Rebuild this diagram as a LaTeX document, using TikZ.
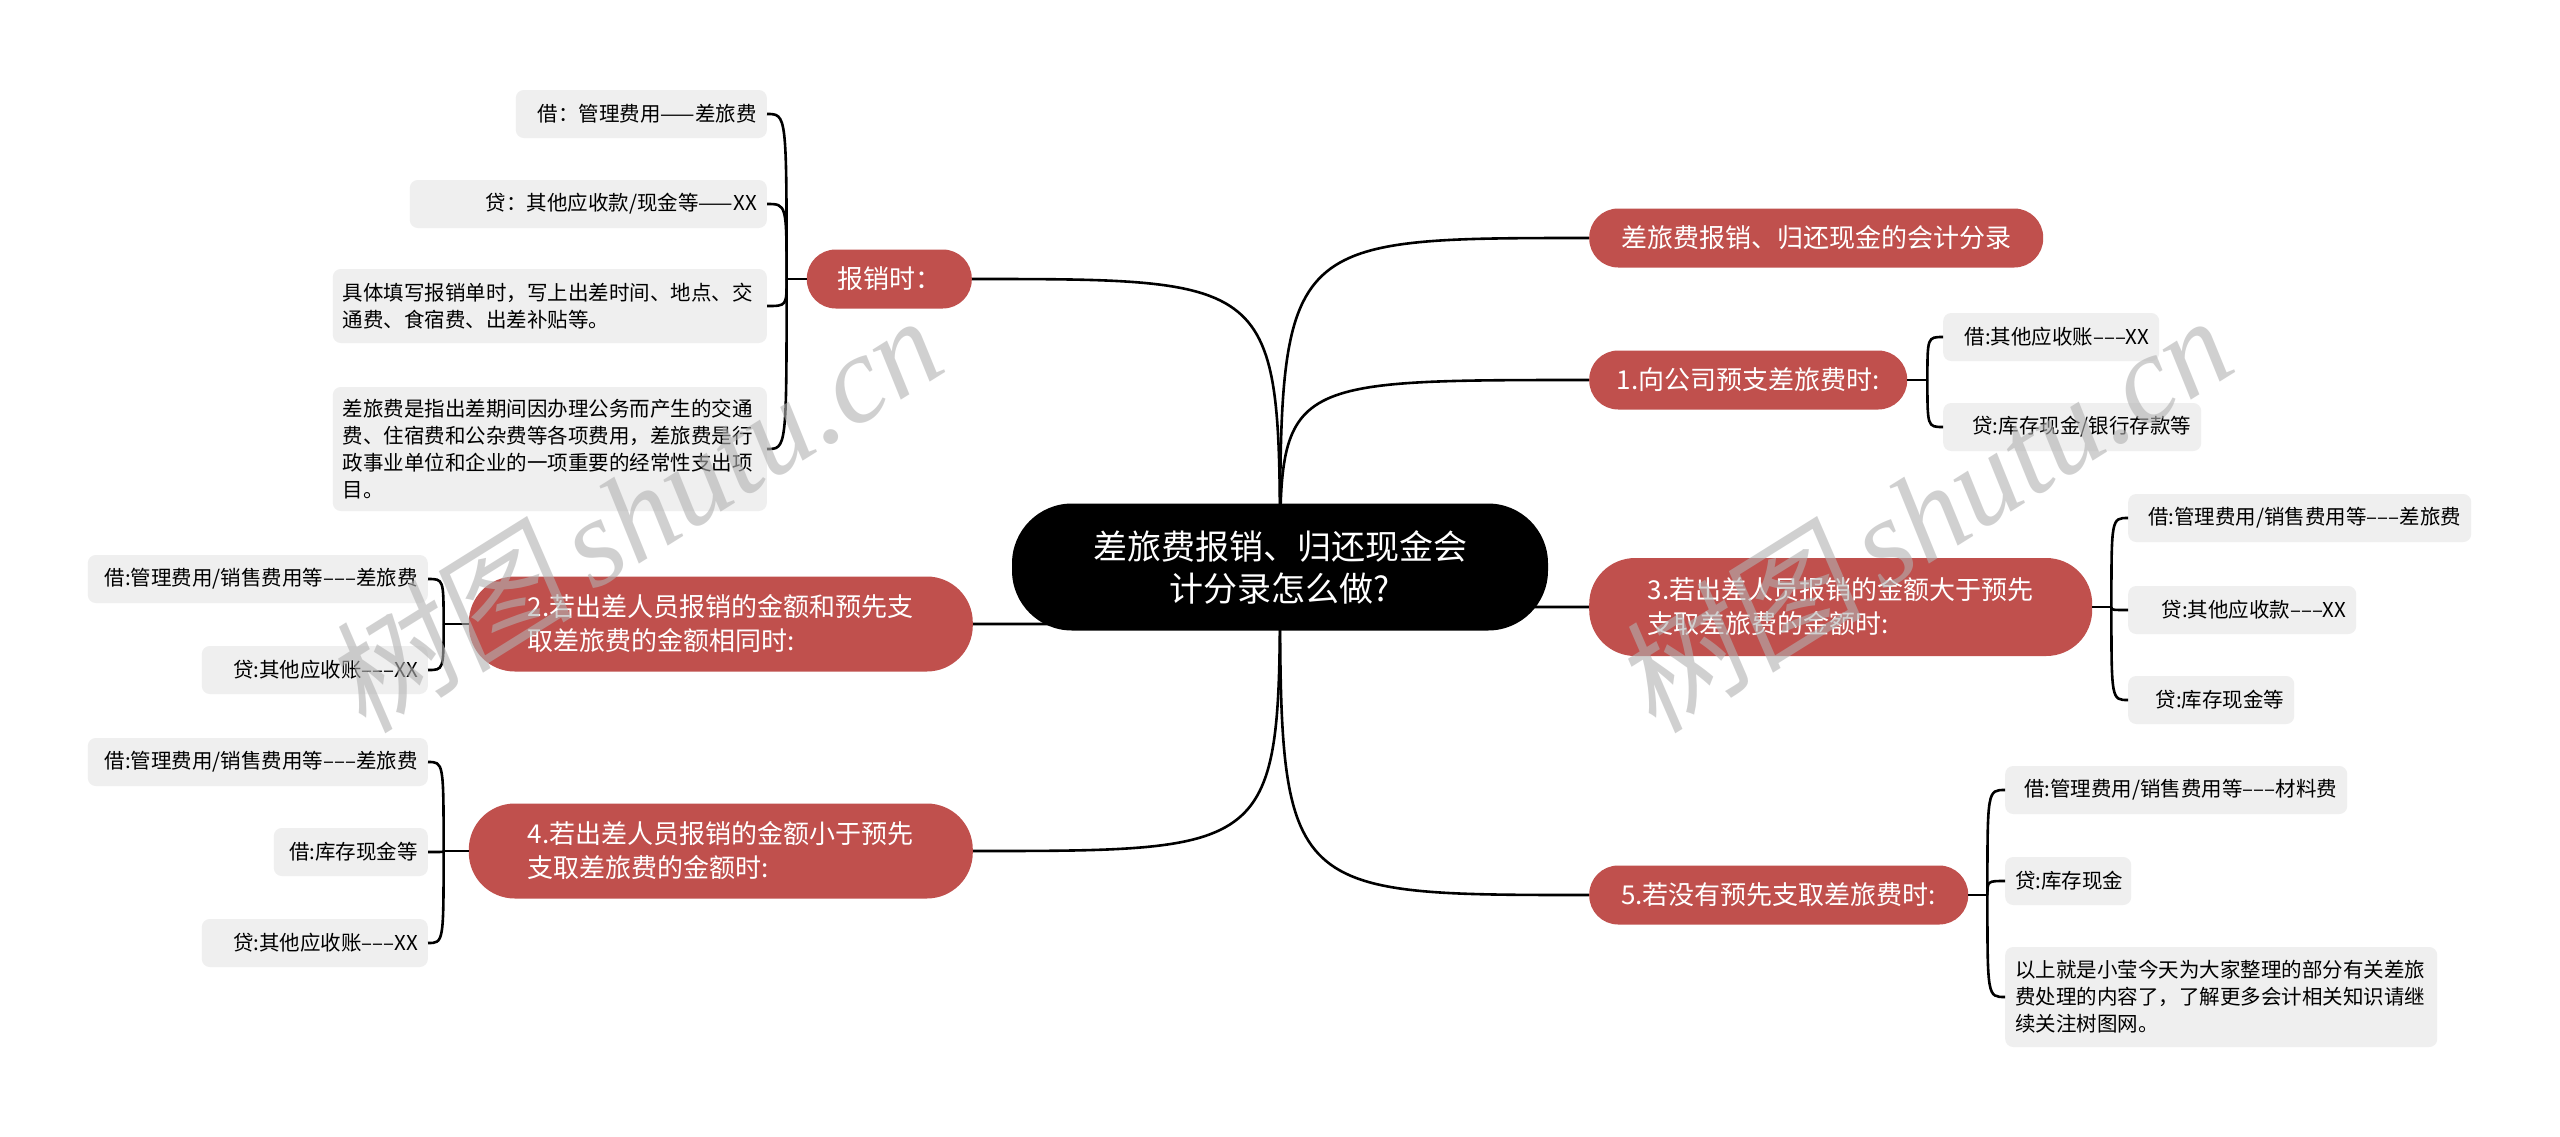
\documentclass[tikz,border=0pt]{standalone}
\usepackage{fontspec}
\setmainfont{Noto Sans CJK SC}
\newfontfamily\wmcjk[FakeSlant=0.15]{Noto Sans CJK SC}
\newfontfamily\wmlat{Liberation Serif}
\usetikzlibrary{backgrounds}
\definecolor{nodered}{HTML}{C0504D}
\definecolor{leafgray}{HTML}{EFEFEF}
\newcommand\tripdash{–\kern0pt–\kern0pt–}
\begin{document}
\begin{tikzpicture}[x=1pt,y=-1pt,
  conn/.style={line width=2.6pt, black},
  rootnode/.style={fill=black, text=white, rounded corners=60pt, minimum width=536pt, minimum height=127pt, font=\fontsize{34}{42}\selectfont, align=center, inner sep=0pt},
  topic/.style={fill=nodered, text=white, rounded corners=29pt, minimum height=59pt, font=\fontsize{26}{34}\selectfont, inner sep=0pt},
  topictwo/.style={topic, rounded corners=46pt, align=left},
  leaf/.style={fill=leafgray, rounded corners=8pt, inner xsep=10pt, inner ysep=0pt, minimum height=48pt, font=\fontsize{20.5}{27}\selectfont},
  wm/.style={text=black!30, text opacity=0.6, font=\fontsize{125}{125}\selectfont, inner sep=0pt}
]
\useasboundingbox (0,0) rectangle (2560,1136);

% root
\node[rootnode] (C) at (1280,567) {差旅费报销、归还现金会\\计分录怎么做?};

% right topics
\node[topic, anchor=west, minimum width=454pt] (R0) at (1589,238) {差旅费报销、归还现金的会计分录};
\node[topic, anchor=west, minimum width=318pt] (R1) at (1589,380) {1.向公司预支差旅费时:};
\node[topictwo, anchor=west, minimum width=503pt, minimum height=98pt] (R3) at (1589,607) {3.若出差人员报销的金额大于预先\\支取差旅费的金额时:};
\node[topic, anchor=west, minimum width=379pt] (R5) at (1589,895) {5.若没有预先支取差旅费时:};

% left topics
\node[topic, anchor=east, minimum width=165pt] (L0) at (972,279) {报销时：};
\node[topictwo, anchor=east, minimum width=504pt, minimum height=95pt] (L2) at (973,624) {2.若出差人员报销的金额和预先支\\取差旅费的金额相同时:};
\node[topictwo, anchor=east, minimum width=504pt, minimum height=95pt] (L4) at (973,851) {4.若出差人员报销的金额小于预先\\支取差旅费的金额时:};

% L0 leaves
\node[leaf, anchor=east, text width=231pt, align=right] (L0a) at (767,114) {借：管理费用——差旅费};
\node[leaf, anchor=east, text width=337pt, align=right] (L0b) at (767,204) {贷：其他应收款/现金等——XX};
\node[leaf, anchor=east, text width=414pt, align=left, minimum height=74pt] (L0c) at (767,306) {具体填写报销单时，写上出差时间、地点、交\\通费、食宿费、出差补贴等。};
\node[leaf, anchor=east, text width=414pt, align=left, minimum height=124pt] (L0d) at (767,449) {差旅费是指出差期间因办理公务而产生的交通\\费、住宿费和公杂费等各项费用，差旅费是行\\政事业单位和企业的一项重要的经常性支出项\\目。};

% L2 leaves
\node[leaf, anchor=east, text width=320pt, align=right] (L2a) at (428,579) {借:管理费用/销售费用等\tripdash 差旅费};
\node[leaf, anchor=east, text width=206pt, align=right] (L2b) at (428,670) {贷:其他应收账\tripdash XX};

% L4 leaves
\node[leaf, anchor=east, text width=320pt, align=right] (L4a) at (428,762) {借:管理费用/销售费用等\tripdash 差旅费};
\node[leaf, anchor=east, text width=134pt, align=right] (L4b) at (428,852) {借:库存现金等};
\node[leaf, anchor=east, text width=206pt, align=right] (L4c) at (428,943) {贷:其他应收账\tripdash XX};

% R1 leaves
\node[leaf, anchor=west, text width=196pt, align=right] (R1a) at (1943,337) {借:其他应收账\tripdash XX};
\node[leaf, anchor=west, text width=238pt, align=right] (R1b) at (1943,427) {贷:库存现金/银行存款等};

% R3 leaves
\node[leaf, anchor=west, text width=323pt, align=right] (R3a) at (2128,518) {借:管理费用/销售费用等\tripdash 差旅费};
\node[leaf, anchor=west, text width=208pt, align=right] (R3b) at (2128,610) {贷:其他应收款\tripdash XX};
\node[leaf, anchor=west, text width=146pt, align=right] (R3c) at (2128,700) {贷:库存现金等};

% R5 leaves
\node[leaf, anchor=west, text width=322pt, align=right] (R5a) at (2005,790) {借:管理费用/销售费用等\tripdash 材料费};
\node[leaf, anchor=west, text width=106pt, align=right] (R5b) at (2005,881) {贷:库存现金};
\node[leaf, anchor=west, text width=412pt, align=left, minimum height=100pt] (R5c) at (2005,997) {以上就是小莹今天为大家整理的部分有关差旅\\费处理的内容了，了解更多会计相关知识请继\\续关注树图网。};

% junctions
\coordinate (jL0) at ([xshift=-20pt]L0.west);
\coordinate (jL2) at ([xshift=-25pt]L2.west);
\coordinate (jL4) at ([xshift=-25pt]L4.west);
\coordinate (jR1) at ([xshift=20pt]R1.east);
\coordinate (jR3) at ([xshift=19pt]R3.east);
\coordinate (jR5) at ([xshift=19pt]R5.east);

\begin{pgfonlayer}{background}
  \fill[white] (0,0) rectangle (2560,1136);
  % root to topics
  \foreach \t in {R0,R1,R3,R5} {
    \draw[conn] (C.center) .. controls (C.center |- \t.west) .. (\t.west);
  }
  \foreach \t in {L0,L2,L4} {
    \draw[conn] (C.center) .. controls (C.center |- \t.east) .. (\t.east);
  }
\end{pgfonlayer}

% topic to junction and leaves
\draw[conn] (L0.west) -- (jL0);
\foreach \l in {L0a,L0b,L0c,L0d} {
  \draw[conn] (jL0) .. controls (jL0 |- \l.east) and (jL0 |- \l.east) .. (\l.east);
}
\draw[conn] (L2.west) -- (jL2);
\foreach \l in {L2a,L2b} {
  \draw[conn] (jL2) .. controls (jL2 |- \l.east) and (jL2 |- \l.east) .. (\l.east);
}
\draw[conn] (L4.west) -- (jL4);
\foreach \l in {L4a,L4b,L4c} {
  \draw[conn] (jL4) .. controls (jL4 |- \l.east) and (jL4 |- \l.east) .. (\l.east);
}
\draw[conn] (R1.east) -- (jR1);
\foreach \l in {R1a,R1b} {
  \draw[conn] (jR1) .. controls (jR1 |- \l.west) and (jR1 |- \l.west) .. (\l.west);
}
\draw[conn] (R3.east) -- (jR3);
\foreach \l in {R3a,R3b,R3c} {
  \draw[conn] (jR3) .. controls (jR3 |- \l.west) and (jR3 |- \l.west) .. (\l.west);
}
\draw[conn] (R5.east) -- (jR5);
\foreach \l in {R5a,R5b,R5c} {
  \draw[conn] (jR5) .. controls (jR5 |- \l.west) and (jR5 |- \l.west) .. (\l.west);
}

% watermarks
\node[wm, rotate=32] (wm1) at (632,512) {{\wmcjk 树图}\,{\wmlat\itshape shutu.cn}};
\node[wm, rotate=32] (wm2) at (1922,512) {{\wmcjk 树图}\,{\wmlat\itshape shutu.cn}};
\end{tikzpicture}
\end{document}
